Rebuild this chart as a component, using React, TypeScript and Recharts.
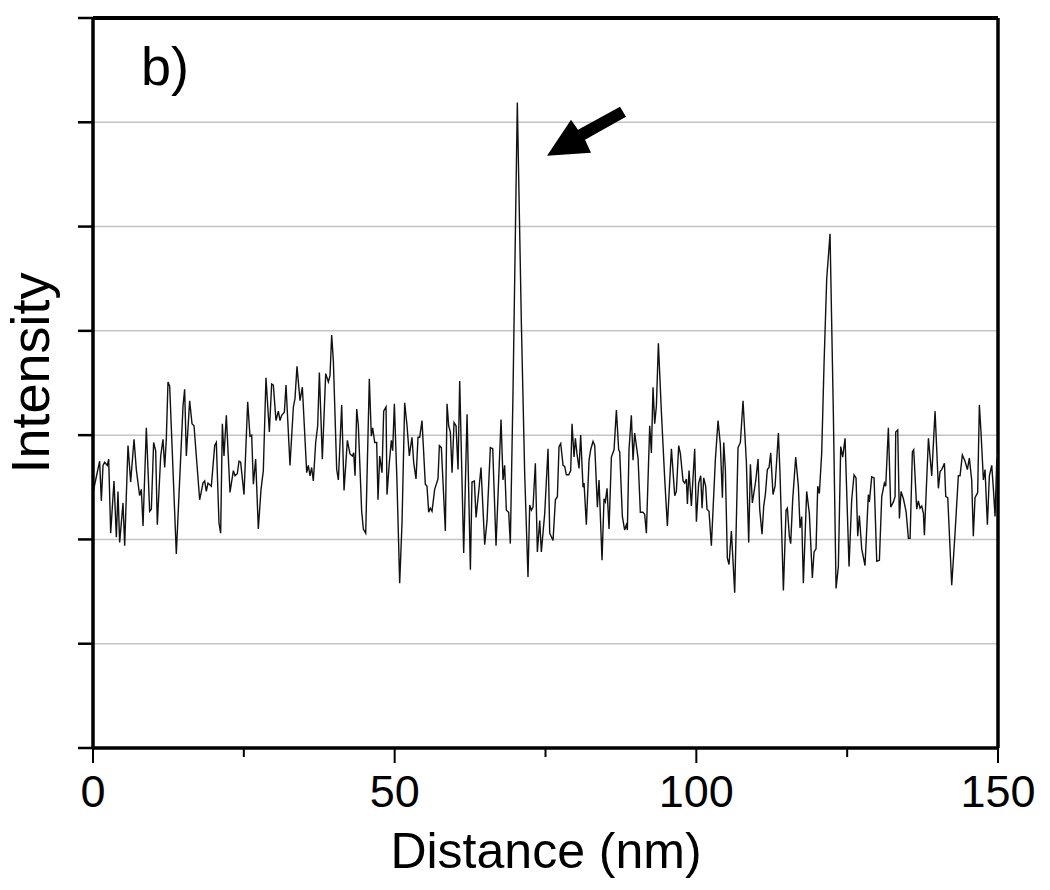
import React from "react";
import { LineChart, Line, XAxis, YAxis, CartesianGrid, ReferenceLine, ReferenceDot } from "recharts";

const distance: number[] = [
  0, 1.1, 1.38, 1.66, 1.93, 2.37, 2.6, 2.93, 3.48, 3.87, 4.14, 4.42, 4.97, 5.25, 5.8, 6.24, 6.8, 7.18, 7.73, 8.01,
  8.29, 8.84, 9.39, 9.67, 10.05, 10.39, 10.66, 11.22, 11.6, 11.88, 12.15, 12.43, 12.71, 13.81, 14.92, 15.19, 15.47, 16.02, 16.41, 16.74,
  17.68, 18.23, 18.51, 18.78, 19.06, 19.61, 20.17, 20.44, 20.88, 21.16, 21.44, 21.71, 22.1, 22.71, 23.26, 23.54, 23.92, 24.2, 24.47, 25.03,
  25.64, 26.02, 26.3, 26.58, 26.96, 27.4, 27.85, 28.23, 28.67, 29.23, 29.61, 29.89, 30.33, 30.72, 31.0, 31.27, 31.72, 31.99, 32.65, 33.21,
  33.48, 33.81, 34.31, 34.7, 35.42, 35.69, 35.97, 36.24, 36.52, 36.91, 37.24, 37.52, 38.01, 38.57, 39.01, 39.28, 39.56, 39.84, 40.39, 40.67,
  41.22, 41.61, 42.16, 42.6, 42.99, 43.21, 43.43, 43.71, 43.98, 44.53, 44.81, 45.2, 45.8, 46.13, 46.35, 46.69, 47.02, 47.24, 47.52, 47.9,
  48.18, 48.57, 48.73, 49.12, 49.45, 49.67, 49.95, 50.39, 50.83, 51.22, 51.66, 52.05, 52.43, 52.87, 53.15, 53.54, 53.87, 54.15, 54.53, 55.08,
  55.36, 55.64, 55.91, 56.19, 56.63, 57.18, 57.41, 57.74, 58.4, 58.68, 58.95, 59.23, 59.51, 59.84, 60.17, 60.5, 60.78, 61.44, 62.0, 62.55,
  62.82, 63.21, 63.49, 63.93, 64.31, 64.92, 65.31, 65.86, 66.25, 66.8, 67.63, 67.96, 68.23, 68.51, 68.9, 69.17, 69.62, 70.33, 71.0, 71.55,
  72.1, 72.38, 72.66, 72.93, 73.32, 73.65, 74.04, 74.31, 74.87, 75.42, 75.7, 76.25, 76.64, 76.97, 77.24, 77.52, 77.91, 78.18, 78.46, 78.85,
  79.18, 79.4, 79.73, 79.95, 80.22, 80.56, 80.83, 81.22, 81.39, 81.77, 82.22, 82.49, 82.88, 83.16, 83.6, 83.87, 84.37, 84.7, 84.92, 85.2,
  85.53, 85.92, 86.36, 86.75, 87.13, 87.3, 87.74, 88.12, 88.4, 88.57, 88.84, 89.23, 89.51, 89.78, 90.34, 90.72, 91.16, 91.44, 91.72, 92.27,
  92.55, 92.82, 93.1, 93.38, 93.71, 94.21, 94.76, 95.2, 95.87, 96.42, 96.69, 97.08, 97.36, 97.8, 98.07, 98.35, 98.52, 98.79, 99.18, 99.73,
  100.01, 100.39, 100.73, 100.95, 101.22, 101.55, 101.77, 102.1, 102.49, 103.16, 103.6, 103.98, 104.32, 104.54, 104.81, 105.14, 105.42, 105.81, 106.36, 106.91,
  107.3, 107.74, 108.29, 108.68, 108.96, 109.29, 109.84, 110.23, 110.5, 110.89, 111.17, 111.44, 111.77, 112.05, 112.33, 112.71, 113.05, 113.6, 113.87, 114.43,
  114.87, 115.09, 115.42, 115.64, 115.97, 116.47, 116.91, 117.19, 117.46, 117.74, 118.29, 118.73, 119.23, 119.51, 119.84, 120.12, 120.39, 120.78, 121.17, 121.61,
  122.16, 122.71, 123.16, 123.54, 123.93, 124.26, 124.65, 125.31, 125.75, 126.14, 126.47, 126.75, 127.02, 127.41, 127.96, 128.51, 128.68, 129.07, 129.46, 129.9,
  130.34, 130.73, 131.17, 131.39, 131.83, 132.22, 132.66, 132.94, 133.05, 133.38, 133.66, 133.93, 134.32, 134.76, 135.15, 135.43, 135.81, 136.03, 136.53, 136.8,
  137.08, 137.36, 137.64, 137.8, 138.47, 139.02, 139.57, 140.12, 140.4, 140.67, 141.12, 141.34, 141.67, 142.33, 142.88, 143.43, 143.71, 144.09, 144.54, 144.92,
  145.25, 145.64, 145.91, 146.19, 146.63, 146.91, 147.19, 147.58, 147.85, 148.24, 148.57, 148.96, 149.24, 149.51, 149.79, 150,
];

const intensity: number[] = [
  2.45, 2.75, 2.37, 2.71, 2.74, 2.71, 2.77, 2.06, 2.56, 2.02, 2.46, 1.97, 2.35, 1.94, 2.9, 2.55, 2.96, 2.67, 2.42, 2.48,
  2.13, 3.07, 2.27, 2.29, 2.93, 2.85, 2.14, 2.8, 2.96, 2.69, 2.96, 3.51, 3.47, 1.86, 3.28, 3.44, 2.8, 3.33, 3.11, 3.09,
  2.38, 2.54, 2.56, 2.46, 2.54, 2.51, 2.9, 2.93, 2.16, 2.06, 3.11, 2.8, 3.19, 2.45, 2.66, 2.61, 2.63, 2.75, 2.74, 2.43,
  3.32, 2.99, 3.0, 2.53, 2.77, 2.1, 2.48, 2.66, 3.55, 3.03, 3.49, 3.48, 3.14, 3.23, 3.14, 3.19, 3.22, 3.48, 2.71, 3.27,
  3.35, 3.66, 3.33, 3.46, 2.64, 2.71, 2.61, 2.69, 2.56, 2.93, 3.09, 3.6, 2.77, 3.59, 3.51, 3.57, 3.96, 3.71, 2.67, 2.57,
  3.29, 2.47, 2.95, 2.82, 2.8, 2.83, 2.61, 3.25, 3.09, 2.27, 2.1, 2.06, 3.54, 2.99, 3.07, 2.93, 2.93, 2.38, 2.8, 2.64,
  3.23, 3.27, 2.43, 2.74, 2.95, 2.85, 3.3, 2.54, 1.58, 2.16, 3.31, 3.09, 2.8, 2.98, 2.74, 2.58, 2.98, 2.98, 3.14, 2.53,
  2.51, 2.26, 2.3, 2.27, 2.48, 2.58, 2.9, 2.88, 2.08, 3.3, 3.09, 3.03, 2.64, 3.12, 3.09, 2.67, 3.52, 1.87, 3.2, 1.71,
  2.55, 2.56, 2.21, 2.46, 2.69, 1.95, 2.18, 2.88, 2.87, 1.94, 3.15, 2.57, 2.71, 2.28, 2.26, 1.96, 3.43, 6.19, 4.07, 2.63,
  1.64, 2.33, 2.28, 2.31, 2.73, 1.88, 2.18, 1.88, 2.25, 2.87, 2.06, 1.99, 2.38, 2.41, 2.89, 2.92, 2.71, 2.7, 2.62, 2.62,
  2.66, 3.11, 2.79, 2.97, 2.82, 2.68, 3.0, 2.5, 2.54, 2.14, 2.76, 2.86, 2.94, 2.9, 2.31, 2.57, 1.8, 2.39, 2.36, 2.49,
  2.1, 2.79, 2.86, 3.24, 2.86, 2.84, 2.22, 2.09, 2.14, 2.09, 2.86, 3.19, 2.76, 3.02, 2.78, 2.26, 2.26, 2.24, 2.06, 3.09,
  2.83, 3.46, 3.11, 3.28, 3.88, 3.22, 2.58, 2.13, 2.87, 2.42, 2.46, 2.9, 2.82, 2.56, 2.54, 2.58, 2.34, 2.66, 2.32, 2.87,
  2.17, 2.54, 2.61, 2.3, 2.59, 2.51, 2.29, 2.27, 1.94, 2.77, 3.14, 2.91, 2.4, 2.93, 2.67, 1.82, 1.76, 2.08, 1.49, 2.88,
  2.93, 3.33, 2.75, 1.97, 2.72, 2.35, 2.56, 2.77, 2.29, 2.05, 2.32, 2.43, 2.67, 2.69, 2.83, 2.43, 2.51, 3.02, 2.63, 1.51,
  2.28, 2.3, 2.03, 1.96, 2.38, 2.79, 2.51, 2.11, 2.22, 1.58, 2.46, 2.25, 1.63, 1.88, 1.91, 2.51, 2.44, 2.83, 3.69, 4.5,
  4.93, 3.21, 1.53, 1.74, 2.89, 2.79, 2.97, 1.74, 2.38, 2.62, 2.59, 2.03, 2.23, 1.91, 1.75, 2.43, 2.36, 2.6, 2.59, 1.79,
  1.8, 2.41, 2.54, 2.51, 3.07, 2.31, 2.36, 2.41, 3.03, 3.05, 2.2, 2.46, 2.39, 2.27, 2.01, 2.01, 2.84, 2.86, 2.29, 2.37,
  2.3, 2.32, 2.25, 2.04, 2.97, 2.61, 3.23, 2.49, 2.65, 2.67, 2.73, 2.41, 2.4, 1.56, 2.06, 2.61, 2.61, 2.81, 2.75, 2.67,
  2.78, 2.57, 2.03, 2.4, 2.45, 3.29, 3.02, 2.57, 2.67, 2.14, 2.61, 2.71, 2.48, 2.22, 2.75, 2.83,
];

const xTicks: number[] = [0, 25, 50, 75, 100, 125, 150];
const xMajorTicks: number[] = [0, 50, 100, 150];
const yTicks: number[] = [0, 1, 2, 3, 4, 5, 6, 7];

const arrowTip = { x: 75.25, y: 5.68 };

const panelLabel = "b)";
const xTitle = "Distance (nm)";
const yTitle = "Intensity";

const data = distance.map((d, i) => ({ d, v: intensity[i] }));

const FONT = "'Liberation Sans', Arial, Helvetica, sans-serif";

const XTick = (props: any) => {
  const { x, y, payload } = props;
  const v = payload.value;
  const major = xMajorTicks.includes(v);
  return (
    <g>
      <line x1={x} x2={x} y1={y} y2={y + (major ? 15 : 9)} stroke="#000" strokeWidth={2} />
      {major && (
        <text x={x} y={y + 59} textAnchor="middle" fontSize={45} fontFamily={FONT} fill="#000">
          {v}
        </text>
      )}
    </g>
  );
};

const YTick = (props: any) => {
  const { x, y } = props;
  return <line x1={x - 15} x2={x} y1={y} y2={y} stroke="#000" strokeWidth={2.5} />;
};

const Arrow = (props: any) => {
  const { cx, cy } = props;
  const pts = [
    [0, 0],
    [24, -36],
    [31, -26],
    [73, -49],
    [79, -39],
    [38, -16],
    [44, -3],
  ]
    .map(([dx, dy]) => `${cx + dx},${cy + dy}`)
    .join(" ");
  return <polygon points={pts} fill="#000" />;
};

export default function App() {
  return (
    <div style={{ marginLeft: -8, marginTop: -8, width: 1040, height: 880 }}>
      <LineChart
        width={1040}
        height={880}
        data={data}
        margin={{ top: 18, right: 42, bottom: 32, left: 33 }}
        style={{ background: "#fff" }}
      >
        <CartesianGrid vertical={false} stroke="#c4c4c4" strokeWidth={1.5} />
        <XAxis
          dataKey="d"
          type="number"
          domain={[0, 150]}
          ticks={xTicks}
          interval={0}
          height={100}
          tickSize={0}
          tickMargin={0}
          tickLine={false}
          tick={<XTick />}
          axisLine={{ stroke: "#000", strokeWidth: 3.5 }}
        />
        <YAxis
          type="number"
          domain={[0, 7]}
          ticks={yTicks}
          interval={0}
          width={60}
          tickSize={0}
          tickMargin={0}
          tickLine={false}
          tick={<YTick />}
          axisLine={{ stroke: "#000", strokeWidth: 3.5 }}
        />
        <ReferenceLine y={7} stroke="#000" strokeWidth={4} />
        <ReferenceLine x={150} stroke="#000" strokeWidth={3.5} />
        <Line
          type="linear"
          dataKey="v"
          stroke="#111"
          strokeWidth={1.4}
          dot={false}
          isAnimationActive={false}
        />
        <ReferenceDot x={arrowTip.x} y={arrowTip.y} shape={<Arrow />} />
        <text x={141} y={85} fontSize={54} fontFamily={FONT} fill="#000">
          {panelLabel}
        </text>
        <text
          x={49}
          y={373}
          transform="rotate(-90 49 373)"
          textAnchor="middle"
          fontSize={54}
          fontFamily={FONT}
          fill="#000"
        >
          {yTitle}
        </text>
        <text x={546} y={868} textAnchor="middle" fontSize={50} fontFamily={FONT} fill="#000">
          {xTitle}
        </text>
      </LineChart>
    </div>
  );
}
